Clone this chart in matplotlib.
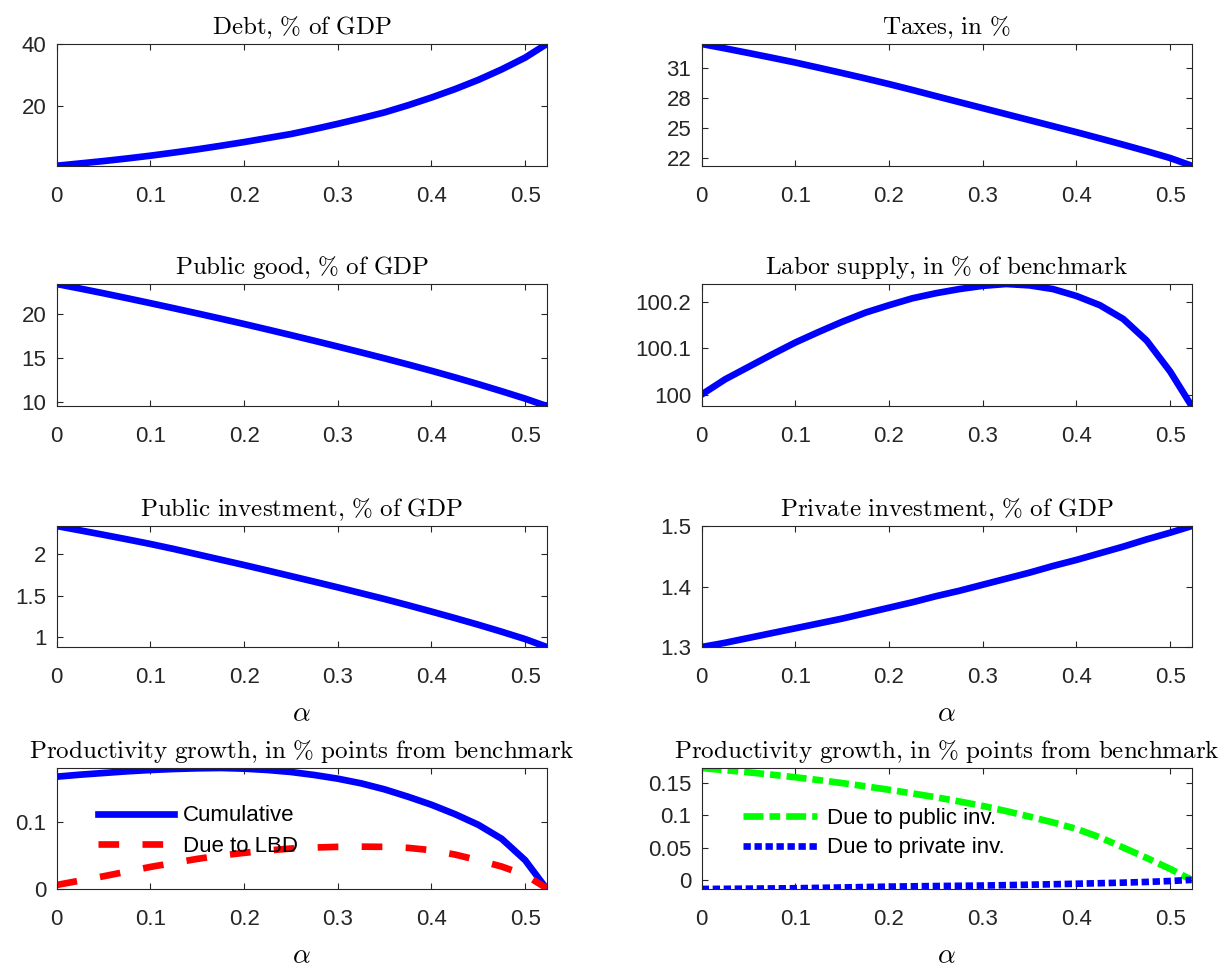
import numpy as np
import matplotlib
matplotlib.use("Agg")
import matplotlib.pyplot as plt
from matplotlib.ticker import FuncFormatter

plt.rcParams['mathtext.fontset'] = 'cm'
plt.rcParams['font.family'] = ['Liberation Sans', 'DejaVu Sans']

# alpha grid (x axis of all panels)
alpha = [0, 0.025, 0.05, 0.075, 0.1, 0.125, 0.15, 0.175, 0.2, 0.225, 0.25, 0.275, 0.3,
         0.325, 0.35, 0.375, 0.4, 0.425, 0.45, 0.475, 0.5, 0.523]

debt = [0.65, 1.4, 2.16, 3.0, 3.9, 4.9, 5.95, 7.1, 8.3, 9.6, 10.9, 12.5, 14.2, 16.0, 17.9,
        20.2, 22.7, 25.4, 28.4, 31.8, 35.6, 40.0]
taxes = [33.40, 32.96, 32.50, 32.03, 31.55, 31.03, 30.50, 29.96, 29.40, 28.81, 28.20, 27.60,
         27.00, 26.40, 25.80, 25.20, 24.60, 23.98, 23.35, 22.70, 22.02, 21.25]
public_good = [23.45, 22.93, 22.39, 21.83, 21.26, 20.68, 20.09, 19.49, 18.88, 18.25, 17.61,
               16.96, 16.30, 15.63, 14.95, 14.25, 13.53, 12.78, 12.00, 11.19, 10.35, 9.50]
labor = [100.0, 100.033, 100.060, 100.087, 100.113, 100.136, 100.158, 100.178, 100.194,
         100.209, 100.220, 100.229, 100.236, 100.240, 100.237, 100.229, 100.214, 100.194,
         100.164, 100.117, 100.050, 99.975]
public_inv = [2.335, 2.283, 2.23, 2.176, 2.12, 2.06, 1.996, 1.932, 1.868, 1.802, 1.735, 1.668,
              1.60, 1.53, 1.46, 1.386, 1.31, 1.232, 1.152, 1.068, 0.98, 0.885]
private_inv = [1.300, 1.307, 1.315, 1.323, 1.331, 1.339, 1.347, 1.356, 1.365, 1.374, 1.384,
               1.393, 1.403, 1.413, 1.423, 1.434, 1.444, 1.455, 1.466, 1.478, 1.489, 1.500]

# productivity growth decomposition
prod_cum = [0.168, 0.171, 0.1735, 0.176, 0.178, 0.1795, 0.1805, 0.181, 0.180, 0.178, 0.175,
            0.1705, 0.165, 0.158, 0.149, 0.138, 0.126, 0.112, 0.096, 0.075, 0.043, 0.0]
prod_lbd = [0.006, 0.0125, 0.019, 0.026, 0.033, 0.039, 0.045, 0.050, 0.054, 0.0575, 0.0605,
            0.062, 0.063, 0.0633, 0.063, 0.0615, 0.058, 0.0515, 0.043, 0.0335, 0.021, 0.001]
prod_pub = [0.1734, 0.170, 0.1667, 0.163, 0.159, 0.1547, 0.150, 0.145, 0.1396, 0.134, 0.128,
            0.1215, 0.1146, 0.1066, 0.098, 0.089, 0.079, 0.066, 0.050, 0.034, 0.017, 0.0]
prod_priv = [-0.0141, -0.0139, -0.0136, -0.0133, -0.013, -0.0124, -0.0118, -0.0111, -0.0105,
             -0.0100, -0.0096, -0.0092, -0.0088, -0.0082, -0.0075, -0.0068, -0.006, -0.0052,
             -0.0043, -0.0032, -0.0018, 0.0]

xticks = [0, 0.1, 0.2, 0.3, 0.4, 0.5]
AXCOL = '#262626'
LW = 4.8

fig = plt.figure(figsize=(12.25, 9.67), dpi=100)

lefts = [0.0463, 0.5728]
W = 0.40
bottoms = [0.8286, 0.5801, 0.3309, 0.0807]
heights = [0.1259, 0.1262, 0.1251, 0.1251]


def mk_axes(row, col, title, yticks):
    ax = fig.add_axes([lefts[col], bottoms[row], W, heights[row]])
    ax.set_title(r'$\mathrm{' + title + '}$', fontsize=18, pad=7, color='k')
    ax.set_xticks(xticks)
    ax.set_yticks(yticks)
    ax.xaxis.set_major_formatter(FuncFormatter(lambda v, p: '%g' % round(v, 4)))
    ax.yaxis.set_major_formatter(FuncFormatter(lambda v, p: '%g' % round(v, 4)))
    ax.tick_params(direction='in', top=True, right=True, length=4, width=0.8,
                   labelsize=16, colors=AXCOL)
    ax.tick_params(axis='x', pad=14.5)
    ax.tick_params(axis='y', pad=7.5)
    for s in ax.spines.values():
        s.set_color(AXCOL)
        s.set_linewidth(0.8)
    return ax


def tight(ax, *series):
    # axis tight, like matlab
    lo = min(min(s) for s in series)
    hi = max(max(s) for s in series)
    ax.set_xlim(alpha[0], alpha[-1])
    ax.set_ylim(lo, hi)


def alpha_label(ax):
    ax.set_xlabel(r'$\alpha$', fontsize=20, labelpad=9.5)


ax = mk_axes(0, 0, r'Debt{,}\ \%\ of\ GDP', [20, 40])
ax.plot(alpha, debt, color='b', lw=LW)
tight(ax, debt)

ax = mk_axes(0, 1, r'Taxes{,}\ in\ \%', [22, 25, 28, 31])
ax.plot(alpha, taxes, color='b', lw=LW)
tight(ax, taxes)

ax = mk_axes(1, 0, r'Public\ good{,}\ \%\ of\ GDP', [10, 15, 20])
ax.plot(alpha, public_good, color='b', lw=LW)
tight(ax, public_good)

ax = mk_axes(1, 1, r'Labor\ supply{,}\ in\ \%\ of\ benchmark', [100, 100.1, 100.2])
ax.plot(alpha, labor, color='b', lw=LW)
tight(ax, labor)

ax = mk_axes(2, 0, r'Public\ investment{,}\ \%\ of\ GDP', [1, 1.5, 2])
ax.plot(alpha, public_inv, color='b', lw=LW)
tight(ax, public_inv)
alpha_label(ax)

ax = mk_axes(2, 1, r'Private\ investment{,}\ \%\ of\ GDP', [1.3, 1.4, 1.5])
ax.plot(alpha, private_inv, color='b', lw=LW)
tight(ax, private_inv)
alpha_label(ax)

ax = mk_axes(3, 0, r'Productivity\ growth{,}\ in\ \%\ points\ from\ benchmark', [0, 0.1])
ax.plot(alpha, prod_cum, color='b', lw=LW, label='Cumulative')
ax.plot(alpha, prod_lbd, color='r', lw=LW, dashes=(3.1, 3.5), label='Due to LBD')
tight(ax, prod_cum, prod_lbd)
alpha_label(ax)
ax.legend(loc='upper left', bbox_to_anchor=(0.085, 0.69), frameon=False, borderpad=0,
          borderaxespad=0, handlelength=3.4, handletextpad=0.42, labelspacing=0.43, fontsize=16)

ax = mk_axes(3, 1, r'Productivity\ growth{,}\ in\ \%\ points\ from\ benchmark',
             [0, 0.05, 0.1, 0.15])
ax.plot(alpha, prod_pub, color=(0, 1, 0), lw=LW, dashes=(3.0, 0.9, 1.6, 0.9),
        label='Due to public inv.')
ax.plot(alpha, prod_priv, color='b', lw=LW, dashes=(1.1, 0.55), label='Due to private inv.')
tight(ax, prod_pub, prod_priv)
alpha_label(ax)
ax.legend(loc='upper left', bbox_to_anchor=(0.085, 0.67), frameon=False, borderpad=0,
          borderaxespad=0, handlelength=3.3, handletextpad=0.45, labelspacing=0.38, fontsize=16)

plt.savefig('out.png', dpi=100)
